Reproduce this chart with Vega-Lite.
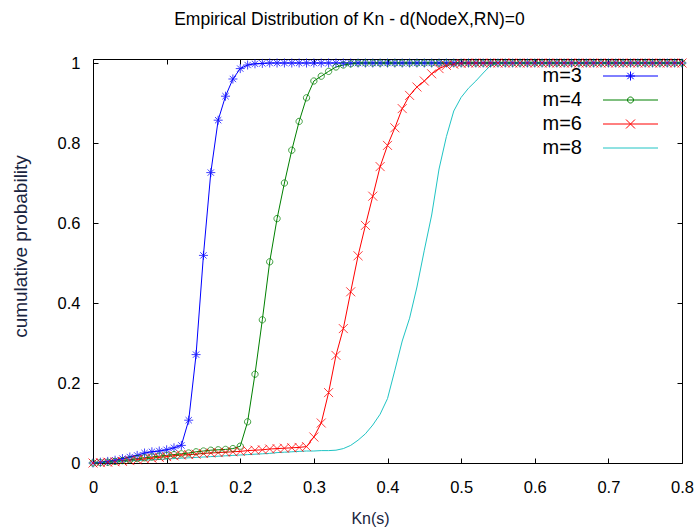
{
"$schema": "https://vega.github.io/schema/vega-lite/v6.json",
"width": 589, "height": 404,
"autosize": {"type": "none"},
"padding": {"left": 93, "top": 59, "right": 17, "bottom": 68},
"background": "white",
"title": {"text": "Empirical Distribution of Kn - d(NodeX,RN)=0", "frame": "group", "anchor": "middle", "dx": -38, "offset": 27, "fontSize": 17.5, "fontWeight": "normal", "font": "Liberation Sans", "color": "black"},
"config": {
 "view": {"stroke": "black", "strokeWidth": 1},
 "axis": {"grid": false, "domain": false, "tickColor": "black", "tickSize": -5, "labelFont": "Liberation Sans", "labelFontSize": 16.5, "labelColor": "black", "titleFont": "Liberation Sans", "titleFontSize": 16, "titleFontWeight": "normal", "titleColor": "#1a2540", "labelFlush": false, "labelOverlap": false}
},
"data": {"values": [
{"m":"m=3","x":0,"y":0},{"m":"m=3","x":0.01,"y":0.002},{"m":"m=3","x":0.02,"y":0.004},{"m":"m=3","x":0.03,"y":0.007},{"m":"m=3","x":0.04,"y":0.011},{"m":"m=3","x":0.05,"y":0.015},{"m":"m=3","x":0.06,"y":0.019},{"m":"m=3","x":0.07,"y":0.025},{"m":"m=3","x":0.08,"y":0.028},{"m":"m=3","x":0.09,"y":0.03},{"m":"m=3","x":0.1,"y":0.033},{"m":"m=3","x":0.11,"y":0.038},{"m":"m=3","x":0.12,"y":0.044},{"m":"m=3","x":0.13,"y":0.107},{"m":"m=3","x":0.14,"y":0.271},{"m":"m=3","x":0.15,"y":0.519},{"m":"m=3","x":0.16,"y":0.726},{"m":"m=3","x":0.17,"y":0.857},{"m":"m=3","x":0.18,"y":0.917},{"m":"m=3","x":0.19,"y":0.96},{"m":"m=3","x":0.2,"y":0.986},{"m":"m=3","x":0.21,"y":0.995},{"m":"m=3","x":0.22,"y":0.998},{"m":"m=3","x":0.23,"y":0.999},
{"m":"m=3","x":0.24,"y":1},{"m":"m=3","x":0.25,"y":1},{"m":"m=3","x":0.26,"y":1},{"m":"m=3","x":0.27,"y":1},{"m":"m=3","x":0.28,"y":1},{"m":"m=3","x":0.29,"y":1},{"m":"m=3","x":0.3,"y":1},{"m":"m=3","x":0.31,"y":1},{"m":"m=3","x":0.32,"y":1},{"m":"m=3","x":0.33,"y":1},{"m":"m=3","x":0.34,"y":1},{"m":"m=3","x":0.35,"y":1},{"m":"m=3","x":0.36,"y":1},{"m":"m=3","x":0.37,"y":1},{"m":"m=3","x":0.38,"y":1},{"m":"m=3","x":0.39,"y":1},{"m":"m=3","x":0.4,"y":1},{"m":"m=3","x":0.41,"y":1},{"m":"m=3","x":0.42,"y":1},{"m":"m=3","x":0.43,"y":1},{"m":"m=3","x":0.44,"y":1},{"m":"m=3","x":0.45,"y":1},{"m":"m=3","x":0.46,"y":1},{"m":"m=3","x":0.47,"y":1},{"m":"m=3","x":0.48,"y":1},{"m":"m=3","x":0.49,"y":1},{"m":"m=3","x":0.5,"y":1},{"m":"m=3","x":0.51,"y":1},{"m":"m=3","x":0.52,"y":1},{"m":"m=3","x":0.53,"y":1},{"m":"m=3","x":0.54,"y":1},{"m":"m=3","x":0.55,"y":1},{"m":"m=3","x":0.56,"y":1},{"m":"m=3","x":0.57,"y":1},{"m":"m=3","x":0.58,"y":1},{"m":"m=3","x":0.59,"y":1},{"m":"m=3","x":0.6,"y":1},{"m":"m=3","x":0.61,"y":1},{"m":"m=3","x":0.62,"y":1},{"m":"m=3","x":0.63,"y":1},{"m":"m=3","x":0.64,"y":1},{"m":"m=3","x":0.65,"y":1},{"m":"m=3","x":0.66,"y":1},{"m":"m=3","x":0.67,"y":1},{"m":"m=3","x":0.68,"y":1},{"m":"m=3","x":0.69,"y":1},{"m":"m=3","x":0.7,"y":1},{"m":"m=3","x":0.71,"y":1},{"m":"m=3","x":0.72,"y":1},{"m":"m=3","x":0.73,"y":1},{"m":"m=3","x":0.74,"y":1},{"m":"m=3","x":0.75,"y":1},{"m":"m=3","x":0.76,"y":1},{"m":"m=3","x":0.77,"y":1},{"m":"m=3","x":0.78,"y":1},{"m":"m=3","x":0.79,"y":1},{"m":"m=3","x":0.8,"y":1},

{"m":"m=4","x":0,"y":0},{"m":"m=4","x":0.01,"y":0.001},{"m":"m=4","x":0.02,"y":0.002},{"m":"m=4","x":0.03,"y":0.004},{"m":"m=4","x":0.04,"y":0.006},{"m":"m=4","x":0.05,"y":0.008},{"m":"m=4","x":0.06,"y":0.011},{"m":"m=4","x":0.07,"y":0.013},{"m":"m=4","x":0.08,"y":0.015},{"m":"m=4","x":0.09,"y":0.017},{"m":"m=4","x":0.1,"y":0.019},{"m":"m=4","x":0.11,"y":0.021},{"m":"m=4","x":0.12,"y":0.023},{"m":"m=4","x":0.13,"y":0.025},{"m":"m=4","x":0.14,"y":0.028},{"m":"m=4","x":0.15,"y":0.03},{"m":"m=4","x":0.16,"y":0.032},{"m":"m=4","x":0.17,"y":0.033},{"m":"m=4","x":0.18,"y":0.034},{"m":"m=4","x":0.19,"y":0.036},{"m":"m=4","x":0.2,"y":0.042},{"m":"m=4","x":0.21,"y":0.103},{"m":"m=4","x":0.22,"y":0.222},{"m":"m=4","x":0.23,"y":0.358},{"m":"m=4","x":0.24,"y":0.503},{"m":"m=4","x":0.25,"y":0.611},{"m":"m=4","x":0.26,"y":0.7},{"m":"m=4","x":0.27,"y":0.782},{"m":"m=4","x":0.28,"y":0.854},{"m":"m=4","x":0.29,"y":0.913},{"m":"m=4","x":0.3,"y":0.955},{"m":"m=4","x":0.31,"y":0.967},{"m":"m=4","x":0.32,"y":0.979},{"m":"m=4","x":0.33,"y":0.99},{"m":"m=4","x":0.34,"y":0.995},{"m":"m=4","x":0.35,"y":0.998},
{"m":"m=4","x":0.36,"y":1},{"m":"m=4","x":0.37,"y":1},{"m":"m=4","x":0.38,"y":1},{"m":"m=4","x":0.39,"y":1},{"m":"m=4","x":0.4,"y":1},{"m":"m=4","x":0.41,"y":1},{"m":"m=4","x":0.42,"y":1},{"m":"m=4","x":0.43,"y":1},{"m":"m=4","x":0.44,"y":1},{"m":"m=4","x":0.45,"y":1},{"m":"m=4","x":0.46,"y":1},{"m":"m=4","x":0.47,"y":1},{"m":"m=4","x":0.48,"y":1},{"m":"m=4","x":0.49,"y":1},{"m":"m=4","x":0.5,"y":1},{"m":"m=4","x":0.51,"y":1},{"m":"m=4","x":0.52,"y":1},{"m":"m=4","x":0.53,"y":1},{"m":"m=4","x":0.54,"y":1},{"m":"m=4","x":0.55,"y":1},{"m":"m=4","x":0.56,"y":1},{"m":"m=4","x":0.57,"y":1},{"m":"m=4","x":0.58,"y":1},{"m":"m=4","x":0.59,"y":1},{"m":"m=4","x":0.6,"y":1},{"m":"m=4","x":0.61,"y":1},{"m":"m=4","x":0.62,"y":1},{"m":"m=4","x":0.63,"y":1},{"m":"m=4","x":0.64,"y":1},{"m":"m=4","x":0.65,"y":1},{"m":"m=4","x":0.66,"y":1},{"m":"m=4","x":0.67,"y":1},{"m":"m=4","x":0.68,"y":1},{"m":"m=4","x":0.69,"y":1},{"m":"m=4","x":0.7,"y":1},{"m":"m=4","x":0.71,"y":1},{"m":"m=4","x":0.72,"y":1},{"m":"m=4","x":0.73,"y":1},{"m":"m=4","x":0.74,"y":1},{"m":"m=4","x":0.75,"y":1},{"m":"m=4","x":0.76,"y":1},{"m":"m=4","x":0.77,"y":1},{"m":"m=4","x":0.78,"y":1},{"m":"m=4","x":0.79,"y":1},{"m":"m=4","x":0.8,"y":1},

{"m":"m=6","x":0,"y":0},{"m":"m=6","x":0.01,"y":0.001},{"m":"m=6","x":0.02,"y":0.002},{"m":"m=6","x":0.03,"y":0.003},{"m":"m=6","x":0.04,"y":0.004},{"m":"m=6","x":0.05,"y":0.006},{"m":"m=6","x":0.06,"y":0.008},{"m":"m=6","x":0.07,"y":0.01},{"m":"m=6","x":0.08,"y":0.012},{"m":"m=6","x":0.09,"y":0.014},{"m":"m=6","x":0.1,"y":0.016},{"m":"m=6","x":0.11,"y":0.018},{"m":"m=6","x":0.12,"y":0.02},{"m":"m=6","x":0.13,"y":0.021},{"m":"m=6","x":0.14,"y":0.022},{"m":"m=6","x":0.15,"y":0.024},{"m":"m=6","x":0.16,"y":0.025},{"m":"m=6","x":0.17,"y":0.026},{"m":"m=6","x":0.18,"y":0.027},{"m":"m=6","x":0.19,"y":0.028},{"m":"m=6","x":0.2,"y":0.029},{"m":"m=6","x":0.21,"y":0.031},{"m":"m=6","x":0.22,"y":0.032},{"m":"m=6","x":0.23,"y":0.033},{"m":"m=6","x":0.24,"y":0.035},{"m":"m=6","x":0.25,"y":0.036},{"m":"m=6","x":0.26,"y":0.037},{"m":"m=6","x":0.27,"y":0.038},{"m":"m=6","x":0.28,"y":0.039},{"m":"m=6","x":0.29,"y":0.041},{"m":"m=6","x":0.3,"y":0.065},{"m":"m=6","x":0.31,"y":0.1},{"m":"m=6","x":0.32,"y":0.176},{"m":"m=6","x":0.33,"y":0.269},{"m":"m=6","x":0.34,"y":0.336},{"m":"m=6","x":0.35,"y":0.428},{"m":"m=6","x":0.36,"y":0.518},{"m":"m=6","x":0.37,"y":0.594},{"m":"m=6","x":0.38,"y":0.667},{"m":"m=6","x":0.39,"y":0.741},{"m":"m=6","x":0.4,"y":0.794},{"m":"m=6","x":0.41,"y":0.838},{"m":"m=6","x":0.42,"y":0.886},{"m":"m=6","x":0.43,"y":0.919},{"m":"m=6","x":0.44,"y":0.94},{"m":"m=6","x":0.45,"y":0.955},{"m":"m=6","x":0.46,"y":0.973},{"m":"m=6","x":0.47,"y":0.986},{"m":"m=6","x":0.48,"y":0.994},{"m":"m=6","x":0.49,"y":0.997},{"m":"m=6","x":0.5,"y":0.999},
{"m":"m=6","x":0.51,"y":1},{"m":"m=6","x":0.52,"y":1},{"m":"m=6","x":0.53,"y":1},{"m":"m=6","x":0.54,"y":1},{"m":"m=6","x":0.55,"y":1},{"m":"m=6","x":0.56,"y":1},{"m":"m=6","x":0.57,"y":1},{"m":"m=6","x":0.58,"y":1},{"m":"m=6","x":0.59,"y":1},{"m":"m=6","x":0.6,"y":1},{"m":"m=6","x":0.61,"y":1},{"m":"m=6","x":0.62,"y":1},{"m":"m=6","x":0.63,"y":1},{"m":"m=6","x":0.64,"y":1},{"m":"m=6","x":0.65,"y":1},{"m":"m=6","x":0.66,"y":1},{"m":"m=6","x":0.67,"y":1},{"m":"m=6","x":0.68,"y":1},{"m":"m=6","x":0.69,"y":1},{"m":"m=6","x":0.7,"y":1},{"m":"m=6","x":0.71,"y":1},{"m":"m=6","x":0.72,"y":1},{"m":"m=6","x":0.73,"y":1},{"m":"m=6","x":0.74,"y":1},{"m":"m=6","x":0.75,"y":1},{"m":"m=6","x":0.76,"y":1},{"m":"m=6","x":0.77,"y":1},{"m":"m=6","x":0.78,"y":1},{"m":"m=6","x":0.79,"y":1},{"m":"m=6","x":0.8,"y":1},

{"m":"m=8","x":0,"y":0},{"m":"m=8","x":0.01,"y":0.001},{"m":"m=8","x":0.02,"y":0.002},{"m":"m=8","x":0.03,"y":0.003},{"m":"m=8","x":0.04,"y":0.004},{"m":"m=8","x":0.05,"y":0.005},{"m":"m=8","x":0.06,"y":0.006},{"m":"m=8","x":0.07,"y":0.007},{"m":"m=8","x":0.08,"y":0.008},{"m":"m=8","x":0.09,"y":0.009},{"m":"m=8","x":0.1,"y":0.01},{"m":"m=8","x":0.11,"y":0.011},{"m":"m=8","x":0.12,"y":0.012},{"m":"m=8","x":0.13,"y":0.013},{"m":"m=8","x":0.14,"y":0.014},{"m":"m=8","x":0.15,"y":0.015},{"m":"m=8","x":0.16,"y":0.016},{"m":"m=8","x":0.17,"y":0.017},{"m":"m=8","x":0.18,"y":0.018},{"m":"m=8","x":0.19,"y":0.019},{"m":"m=8","x":0.2,"y":0.02},{"m":"m=8","x":0.21,"y":0.021},{"m":"m=8","x":0.22,"y":0.022},{"m":"m=8","x":0.23,"y":0.023},{"m":"m=8","x":0.24,"y":0.024},{"m":"m=8","x":0.25,"y":0.026},{"m":"m=8","x":0.26,"y":0.027},{"m":"m=8","x":0.27,"y":0.028},{"m":"m=8","x":0.28,"y":0.029},{"m":"m=8","x":0.29,"y":0.03},{"m":"m=8","x":0.3,"y":0.03},{"m":"m=8","x":0.31,"y":0.031},{"m":"m=8","x":0.32,"y":0.031},{"m":"m=8","x":0.33,"y":0.032},{"m":"m=8","x":0.34,"y":0.036},{"m":"m=8","x":0.35,"y":0.044},{"m":"m=8","x":0.36,"y":0.057},{"m":"m=8","x":0.37,"y":0.073},{"m":"m=8","x":0.38,"y":0.095},{"m":"m=8","x":0.39,"y":0.122},{"m":"m=8","x":0.4,"y":0.161},{"m":"m=8","x":0.41,"y":0.232},{"m":"m=8","x":0.42,"y":0.305},{"m":"m=8","x":0.43,"y":0.362},{"m":"m=8","x":0.44,"y":0.44},{"m":"m=8","x":0.45,"y":0.532},{"m":"m=8","x":0.46,"y":0.62},{"m":"m=8","x":0.47,"y":0.735},{"m":"m=8","x":0.48,"y":0.816},{"m":"m=8","x":0.49,"y":0.88},{"m":"m=8","x":0.5,"y":0.914},{"m":"m=8","x":0.51,"y":0.937},{"m":"m=8","x":0.52,"y":0.955},{"m":"m=8","x":0.53,"y":0.975},{"m":"m=8","x":0.54,"y":0.994},{"m":"m=8","x":0.55,"y":0.999},
{"m":"m=8","x":0.56,"y":1},{"m":"m=8","x":0.57,"y":1},{"m":"m=8","x":0.58,"y":1},{"m":"m=8","x":0.59,"y":1},{"m":"m=8","x":0.6,"y":1},{"m":"m=8","x":0.61,"y":1},{"m":"m=8","x":0.62,"y":1},{"m":"m=8","x":0.63,"y":1},{"m":"m=8","x":0.64,"y":1},{"m":"m=8","x":0.65,"y":1},{"m":"m=8","x":0.66,"y":1},{"m":"m=8","x":0.67,"y":1},{"m":"m=8","x":0.68,"y":1},{"m":"m=8","x":0.69,"y":1},{"m":"m=8","x":0.7,"y":1},{"m":"m=8","x":0.71,"y":1},{"m":"m=8","x":0.72,"y":1},{"m":"m=8","x":0.73,"y":1},{"m":"m=8","x":0.74,"y":1},{"m":"m=8","x":0.75,"y":1},{"m":"m=8","x":0.76,"y":1},{"m":"m=8","x":0.77,"y":1},{"m":"m=8","x":0.78,"y":1},{"m":"m=8","x":0.79,"y":1},{"m":"m=8","x":0.8,"y":1}
]},
"layer": [
 {
  "mark": {"type": "line", "strokeWidth": 1},
  "encoding": {
   "x": {"field": "x", "type": "quantitative", "scale": {"domain": [0, 0.8], "nice": false},
         "axis": {"orient": "bottom", "values": [0,0.1,0.2,0.3,0.4,0.5,0.6,0.7,0.8], "format": "~g", "labelPadding": 21, "title": "Kn(s)", "titleX": 277, "titleY": 55, "titleBaseline": "middle", "titleAnchor": null}},
   "y": {"field": "y", "type": "quantitative", "scale": {"domain": [0, 1.01], "nice": false},
         "axis": {"orient": "left", "values": [0,0.2,0.4,0.6,0.8,1], "format": "~g", "labelPadding": 18, "title": "cumulative probability", "titleFontSize": 19, "titleX": -73, "titleY": 187, "titleBaseline": "middle", "titleAlign": "center", "titleAnchor": null}},
   "color": {"field": "m", "type": "nominal",
     "scale": {"domain": ["m=3","m=4","m=6","m=8"], "range": ["#0000ff","#008000","#ff0000","#20c4c4"]},
     "legend": {"orient": "none", "legendX": 527.5, "legendY": 7, "title": null, "padding": 0,
       "labelFont": "Liberation Sans", "labelFontSize": 20, "labelColor": "black", "labelAlign": "right", "labelOffset": -58.5,
       "symbolSize": 100, "symbolStrokeWidth": 1, "rowPadding": 4,
       "encode": {"symbols": {"update": {
         "shape": {"signal": "datum.value === 'm=3' ? 'M-5.5,0L5.5,0M-0.9,0L0.9,0M0,-0.9L0,0.9M-0.64,-0.64L0.64,0.64M-0.64,0.64L0.64,-0.64' : datum.value === 'm=4' ? 'M-5.5,0L5.5,0M0.6,0A0.6,0.6,0,1,1,-0.6,0A0.6,0.6,0,1,1,0.6,0' : datum.value === 'm=6' ? 'M-5.5,0L5.5,0M-0.9,-0.9L0.9,0.9M-0.9,0.9L0.9,-0.9' : 'M-5.5,0L5.5,0'"},
         "fill": {"value": "transparent"},
         "strokeWidth": {"value": 1}
       }}}}
   }
  }
 },
 {
  "transform": [{"filter": "datum.m !== 'm=8'"}],
  "mark": {"type": "point", "filled": false, "strokeWidth": 1, "size": 81, "opacity": 0.75},
  "encoding": {
   "x": {"field": "x", "type": "quantitative", "axis": {"orient": "top", "values": [0,0.1,0.2,0.3,0.4,0.5,0.6,0.7,0.8], "labels": false, "title": null}},
   "y": {"field": "y", "type": "quantitative", "axis": {"orient": "right", "values": [0,0.2,0.4,0.6,0.8,1], "labels": false, "title": null}},
   "color": {"field": "m", "type": "nominal", "legend": null},
   "shape": {"field": "m", "type": "nominal", "legend": null,
     "scale": {"domain": ["m=3","m=4","m=6"], "range": ["M-1,0L1,0M0,-1L0,1M-0.7,-0.7L0.7,0.7M-0.7,0.7L0.7,-0.7", "M0.7,0A0.7,0.7,0,1,1,-0.7,0A0.7,0.7,0,1,1,0.7,0", "M-1,-1L1,1M-1,1L1,-1"]}}
  }
 }
],
"resolve": {"axis": {"x": "independent", "y": "independent"}}
}
